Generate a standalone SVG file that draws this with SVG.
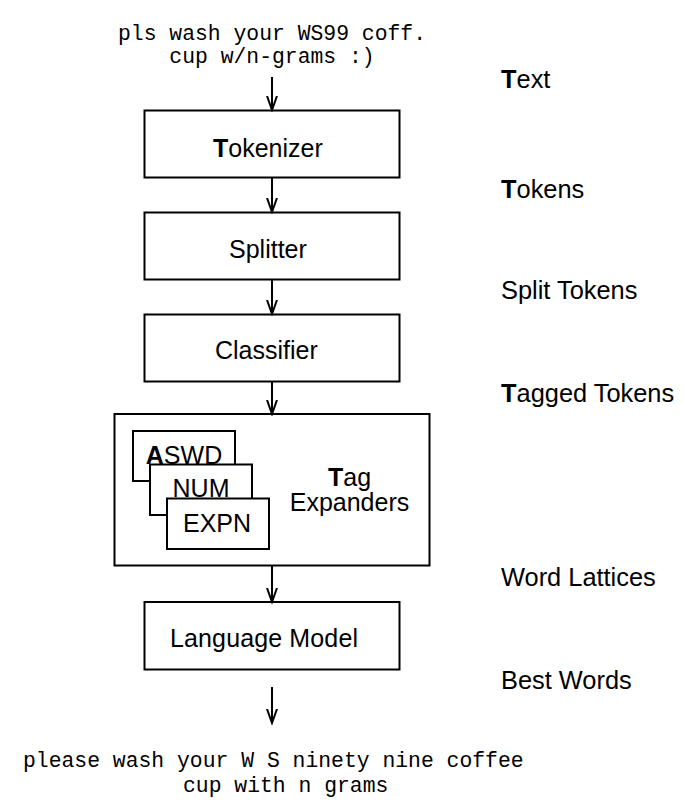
<svg xmlns="http://www.w3.org/2000/svg" width="684" height="809" viewBox="0 0 684 809">
<defs>
<marker id="arr" markerWidth="16" markerHeight="12" refX="14" refY="6" orient="auto" markerUnits="userSpaceOnUse" viewBox="0 0 16 12">
<path d="M0,1 L14,6 L0,11" fill="none" stroke="#000" stroke-width="2"/>
</marker>
</defs>
<style>
.box{fill:#fff;stroke:#000;stroke-width:2}
.lbl{font-family:"Liberation Sans",Arial,sans-serif;font-size:25px;fill:#000}
.side{font-size:25.4px}
.mono{font-family:"Liberation Mono","Courier New",monospace;font-size:21.4px;fill:#000}
.b{font-weight:bold}
.conn line{stroke:#000;stroke-width:2;marker-end:url(#arr)}
</style>
<rect width="684" height="809" fill="#fff"/>

<g id="input-text">
<text class="mono" x="272" y="39.5" text-anchor="middle">pls wash your WS99 coff.</text>
<text class="mono" x="272" y="63.3" text-anchor="middle">cup w/n-grams :)</text>
</g>

<g id="tokenizer">
<rect class="box" x="144.5" y="110.5" width="255" height="67"/>
<text class="lbl" x="213" y="156.5"><tspan class="b">T</tspan>okenizer</text>
</g>

<g id="splitter">
<rect class="box" x="144.5" y="212.5" width="255" height="67"/>
<text class="lbl" x="229" y="257.5">Splitter</text>
</g>

<g id="classifier">
<rect class="box" x="144.5" y="314.5" width="255" height="67"/>
<text class="lbl" x="215" y="358.5">Classifier</text>
</g>

<g id="tag-expanders">
<rect class="box" x="114.5" y="414" width="315" height="151.5"/>
<text class="lbl" x="349.5" y="486" text-anchor="middle"><tspan class="b">T</tspan>ag</text>
<text class="lbl" x="349.5" y="511" text-anchor="middle">Expanders</text>
</g>

<g id="aswd">
<rect class="box" x="133" y="431" width="102" height="50"/>
<text class="lbl" x="184" y="463.5" text-anchor="middle"><tspan class="b">A</tspan>SWD</text>
</g>

<g id="num">
<rect class="box" x="150" y="464.5" width="102" height="50.5"/>
<text class="lbl" x="201" y="497" text-anchor="middle">NUM</text>
</g>

<g id="expn">
<rect class="box" x="167" y="498.5" width="102" height="50.5"/>
<text class="lbl" x="217" y="531.5" text-anchor="middle">EXPN</text>
</g>

<g id="language-model">
<rect class="box" x="144.5" y="602" width="255" height="67.5"/>
<text class="lbl" x="170" y="646.5" textLength="188" lengthAdjust="spacing">Language Model</text>
</g>

<g id="output-text">
<text class="mono" x="23" y="767">please wash your W S ninety nine coffee</text>
<text class="mono" x="183" y="791.7">cup with n grams</text>
</g>

<g id="stage-labels">
<text class="lbl side" x="501" y="88.3"><tspan class="b">T</tspan>ext</text>
<text class="lbl side" x="501" y="197.7"><tspan class="b">T</tspan>okens</text>
<text class="lbl side" x="501" y="299.3">Split Tokens</text>
<text class="lbl side" x="501" y="401.7"><tspan class="b">T</tspan>agged Tokens</text>
<text class="lbl side" x="501" y="586">Word Lattices</text>
<text class="lbl side" x="501" y="689.3">Best Words</text>
</g>

<g id="connectors" class="conn">
<line x1="272" y1="77" x2="272" y2="110"/>
<line x1="272" y1="178" x2="272" y2="212"/>
<line x1="272" y1="280" x2="272" y2="314"/>
<line x1="272" y1="382" x2="272" y2="414"/>
<line x1="272" y1="566" x2="272" y2="602"/>
<line x1="272" y1="687" x2="272" y2="723"/>
</g>
</svg>
